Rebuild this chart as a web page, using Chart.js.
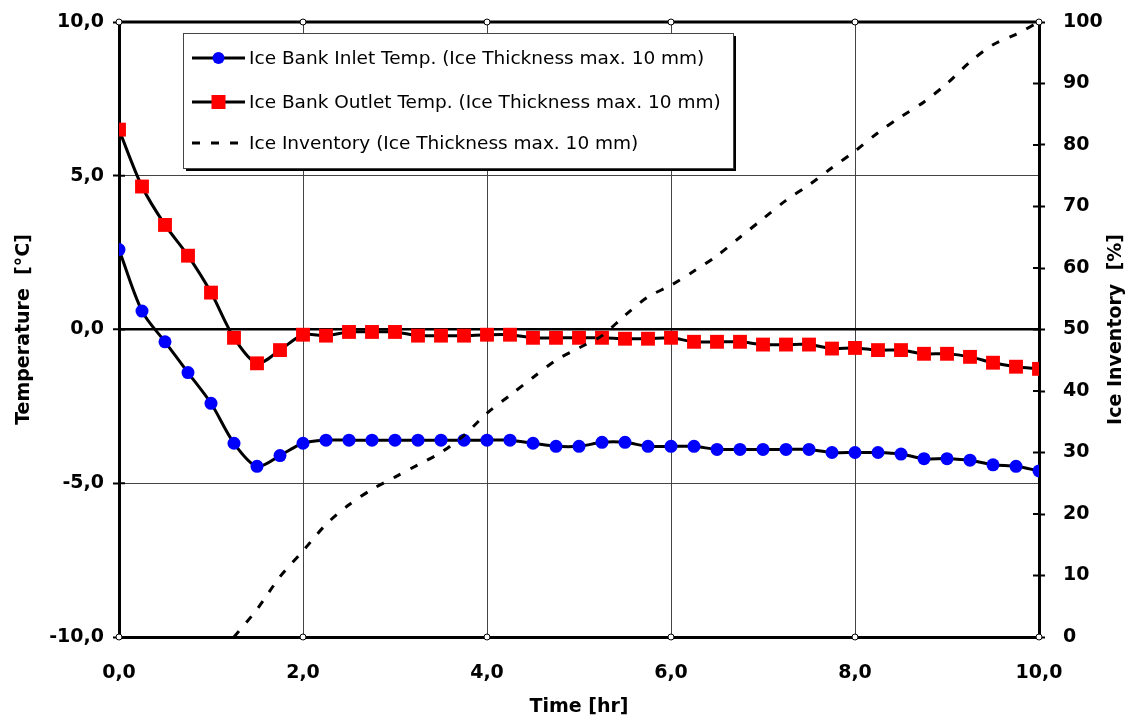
<!DOCTYPE html>
<html>
<head>
<meta charset="utf-8">
<script src="https://cdn.jsdelivr.net/npm/chart.js@4.4.1/dist/chart.umd.min.js"></script>
<style>
  html, body { margin: 0; padding: 0; background: #fff; }
  #wrap { width: 1133px; height: 718px; }
</style>
</head>
<body>
<div id="wrap"><canvas id="chart" width="1133" height="718"></canvas></div>
<script>
// time axis (hours), one sample every quarter hour
const timeHr = [0, 0.25, 0.5, 0.75, 1, 1.25, 1.5, 1.75, 2, 2.25, 2.5, 2.75, 3, 3.25, 3.5, 3.75,
  4, 4.25, 4.5, 4.75, 5, 5.25, 5.5, 5.75, 6, 6.25, 6.5, 6.75, 7, 7.25, 7.5, 7.75,
  8, 8.25, 8.5, 8.75, 9, 9.25, 9.5, 9.75, 10];

// ice bank inlet temperature [°C]
const inletTemp = [2.6, 0.6, -0.4, -1.4, -2.4, -3.7, -4.45, -4.1, -3.7, -3.6, -3.6, -3.6, -3.6, -3.6, -3.6, -3.6,
  -3.6, -3.6, -3.7, -3.8, -3.8, -3.67, -3.67, -3.8, -3.8, -3.8, -3.9, -3.9, -3.9, -3.9, -3.9, -4.0,
  -4.0, -4.0, -4.05, -4.2, -4.2, -4.25, -4.4, -4.45, -4.6];

// ice bank outlet temperature [°C]
const outletTemp = [6.5, 4.65, 3.4, 2.4, 1.2, -0.27, -1.1, -0.67, -0.17, -0.2, -0.08, -0.08, -0.08, -0.2, -0.2, -0.2,
  -0.17, -0.17, -0.27, -0.27, -0.27, -0.27, -0.3, -0.3, -0.27, -0.4, -0.4, -0.4, -0.49, -0.49, -0.49, -0.62,
  -0.6, -0.67, -0.67, -0.79, -0.79, -0.89, -1.08, -1.21, -1.28];

// ice inventory [%], starts building up after ~1.25 h
const inventoryTime = [1.25, 1.5, 1.75, 2, 2.25, 2.5, 2.75, 3, 3.25, 3.5, 3.75, 4, 4.25, 4.5, 4.75, 5,
  5.25, 5.5, 5.75, 6, 6.25, 6.5, 6.75, 7, 7.25, 7.5, 7.75, 8, 8.25, 8.5, 8.75, 9, 9.25, 9.5, 9.75, 10];
const iceInventory = [0, 4.5, 9.8, 14, 18.3, 21.5, 24, 26, 28, 30, 32.8, 36.4, 39.3, 42.2, 45, 47,
  49, 52.3, 55.3, 57.2, 59.5, 62, 65, 68, 71, 73.5, 76.3, 79, 82, 84.6, 87, 90, 93.5, 96.3, 98, 100];

const seriesLabels = [
  'Ice Bank Inlet Temp. (Ice Thickness max. 10 mm)',
  'Ice Bank Outlet Temp. (Ice Thickness max. 10 mm)',
  'Ice Inventory (Ice Thickness max. 10 mm)'
];

const FONT = '"DejaVu Sans", "Liberation Sans", Arial, sans-serif';
const comma = (v) => v.toFixed(1).replace('.', ',');
const pairs = (xs, ys) => xs.map((x, i) => ({ x: x, y: ys[i] }));

// value axes: fixed width, and only half a label of head room above/below
const fixWidth = (w) => (s) => {
  s.width = w;
  s.paddingTop = 11;
  s.paddingBottom = 11;
};

// frame, tick circles, legend box and right axis title
const decorations = {
  id: 'decorations',
  afterDraw(chart) {
    const ctx = chart.ctx;
    const area = chart.chartArea;
    const xs = chart.scales.x, ys = chart.scales.y, y1 = chart.scales.y1;
    ctx.save();

    // top frame line
    ctx.strokeStyle = '#000';
    ctx.lineWidth = 3;
    ctx.beginPath();
    ctx.moveTo(area.left, area.top);
    ctx.lineTo(area.right, area.top);
    ctx.stroke();

    // tick stubs crossing into the plot on both value axes
    ctx.lineWidth = 2;
    ys.ticks.forEach((t) => {
      const py = ys.getPixelForValue(t.value);
      ctx.beginPath();
      ctx.moveTo(area.left, py);
      ctx.lineTo(area.left + 6, py);
      ctx.stroke();
    });
    y1.ticks.forEach((t) => {
      const py = y1.getPixelForValue(t.value);
      ctx.beginPath();
      ctx.moveTo(area.right - 6, py);
      ctx.lineTo(area.right, py);
      ctx.stroke();
    });

    // small hollow markers where the x grid meets the frame
    ctx.lineWidth = 1;
    ctx.fillStyle = '#fff';
    xs.ticks.forEach((t) => {
      const px = xs.getPixelForValue(t.value);
      [area.top, area.bottom].forEach((py) => {
        ctx.beginPath();
        ctx.arc(px, py, 3, 0, Math.PI * 2);
        ctx.fill();
        ctx.stroke();
      });
    });

    // legend box with drop shadow
    const lx = area.left + 64, ly = area.top + 11, lw = 550, lh = 135;
    ctx.fillStyle = '#000';
    ctx.fillRect(lx + 3, ly + 3, lw, lh);
    ctx.fillStyle = '#fff';
    ctx.fillRect(lx, ly, lw, lh);
    ctx.strokeStyle = '#444';
    ctx.lineWidth = 1;
    ctx.strokeRect(lx + 0.5, ly + 0.5, lw, lh);

    const rows = [ly + 25, ly + 69, ly + 110];
    const x0 = lx + 9, x1 = lx + 62, xm = (x0 + x1) / 2;
    ctx.strokeStyle = '#000';
    ctx.lineWidth = 3;
    ctx.font = '18.5px ' + FONT;
    ctx.textBaseline = 'middle';
    rows.forEach((ry, i) => {
      const ds = chart.data.datasets[i];
      ctx.setLineDash(ds.borderDash || []);
      ctx.beginPath();
      ctx.moveTo(x0, ry);
      ctx.lineTo(x1, ry);
      ctx.stroke();
      ctx.setLineDash([]);
      if (ds.pointStyle === 'circle') {
        ctx.fillStyle = ds.pointBackgroundColor;
        ctx.beginPath();
        ctx.arc(xm, ry, 6, 0, Math.PI * 2);
        ctx.fill();
      } else if (ds.pointStyle === 'rect') {
        ctx.fillStyle = ds.pointBackgroundColor;
        ctx.fillRect(xm - 7, ry - 7, 14, 14);
      }
      ctx.fillStyle = '#000';
      ctx.fillText(ds.label, x1 + 4, ry + 1);
    });

    // right axis title, reading bottom to top
    ctx.font = 'bold 19px ' + FONT;
    ctx.textAlign = 'center';
    ctx.translate(1116, (area.top + area.bottom) / 2);
    ctx.rotate(-Math.PI / 2);
    ctx.fillText('Ice Inventory  [%]', 0, 0);
    ctx.restore();
  }
};

new Chart(document.getElementById('chart'), {
  type: 'line',
  data: {
    datasets: [
      {
        label: seriesLabels[0],
        data: pairs(timeHr, inletTemp),
        yAxisID: 'y',
        borderColor: '#000',
        borderWidth: 3,
        tension: 0.3,
        pointStyle: 'circle',
        pointRadius: 6.5,
        pointBorderWidth: 0,
        pointBackgroundColor: '#0000ff',
        order: 2
      },
      {
        label: seriesLabels[1],
        data: pairs(timeHr, outletTemp),
        yAxisID: 'y',
        borderColor: '#000',
        borderWidth: 3,
        tension: 0.3,
        pointStyle: 'rect',
        pointRadius: 9.8,
        pointBorderWidth: 0,
        pointBackgroundColor: '#ff0000',
        order: 1
      },
      {
        label: seriesLabels[2],
        data: pairs(inventoryTime, iceInventory),
        yAxisID: 'y1',
        borderColor: '#000',
        borderWidth: 3,
        borderDash: [8, 11],
        tension: 0.3,
        pointRadius: 0,
        order: 0
      }
    ]
  },
  options: {
    responsive: false,
    animation: false,
    layout: { padding: { top: 22, left: 0, right: 0, bottom: 0 } },
    plugins: { legend: { display: false }, tooltip: { enabled: false } },
    scales: {
      x: {
        type: 'linear',
        min: 0,
        max: 10,
        afterFit: (s) => { s.height = 81; },
        ticks: {
          stepSize: 2,
          padding: 19,
          color: '#000',
          font: { family: FONT, size: 19, weight: 'bold' },
          callback: comma
        },
        grid: {
          color: (c) => (c.tick && (c.tick.value === 0 || c.tick.value === 10)) ? 'rgba(0,0,0,0)' : '#444',
          lineWidth: 1,
          tickLength: 6,
          tickColor: 'rgba(0,0,0,0)'
        },
        border: { color: '#000', width: 3 },
        title: {
          display: true,
          text: 'Time [hr]',
          color: '#000',
          font: { family: FONT, size: 19, weight: 'bold' },
          padding: { top: 12, bottom: 0 }
        }
      },
      y: {
        position: 'left',
        min: -10,
        max: 10,
        afterFit: fixWidth(119),
        ticks: {
          stepSize: 5,
          padding: 9,
          color: '#000',
          font: { family: FONT, size: 19, weight: 'bold' },
          callback: comma
        },
        grid: {
          color: (c) => {
            const v = c.tick ? c.tick.value : null;
            if (v === 10 || v === -10) return 'rgba(0,0,0,0)';
            return v === 0 ? '#000' : '#444';
          },
          lineWidth: (c) => (c.tick && c.tick.value === 0) ? 2.5 : 1,
          tickLength: 6,
          tickColor: '#000',
          tickWidth: 2
        },
        border: { color: '#000', width: 3 },
        title: {
          display: true,
          text: 'Temperature  [°C]',
          color: '#000',
          font: { family: FONT, size: 19, weight: 'bold' },
          padding: { top: 13, bottom: 0 }
        }
      },
      y1: {
        position: 'right',
        min: 0,
        max: 100,
        afterFit: fixWidth(94),
        ticks: {
          stepSize: 10,
          padding: 18,
          color: '#000',
          font: { family: FONT, size: 19, weight: 'bold' }
        },
        grid: {
          drawOnChartArea: false,
          tickLength: 6,
          tickColor: '#000',
          tickWidth: 2
        },
        border: { color: '#000', width: 3 }
      }
    }
  },
  plugins: [decorations]
});
</script>
</body>
</html>
